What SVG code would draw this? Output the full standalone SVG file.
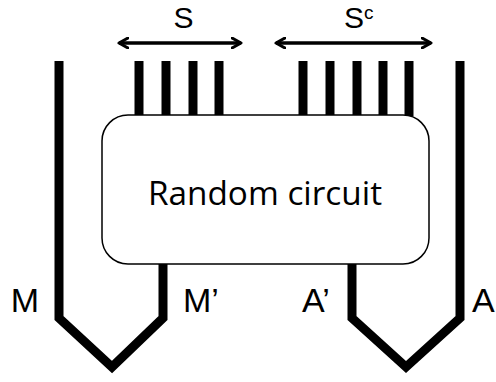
<svg xmlns="http://www.w3.org/2000/svg" width="496" height="382" viewBox="0 0 496 382">
<defs>
<style>
.w{stroke:#000;stroke-width:9;fill:none}
.lw{stroke:#000;stroke-width:9;fill:none;stroke-linejoin:miter}
.arr{stroke:#000;stroke-width:3.5;fill:none;marker-start:url(#ah);marker-end:url(#ah)}
.t{font-family:"Liberation Sans",Arial,sans-serif;fill:#000}
</style>
<marker id="ah" viewBox="0 0 12 12" refX="10" refY="6" markerWidth="12" markerHeight="12" markerUnits="userSpaceOnUse" orient="auto-start-reverse">
<path d="M1,1 L10,6 L1,11" fill="none" stroke="#000" stroke-width="3" stroke-linecap="round" stroke-linejoin="round"/>
</marker>
</defs>
<rect width="496" height="382" fill="#fff"/>
<g id="connectors">
<line class="w" x1="139" y1="61" x2="139" y2="116"/>
<line class="w" x1="166" y1="61" x2="166" y2="116"/>
<line class="w" x1="193" y1="61" x2="193" y2="116"/>
<line class="w" x1="219" y1="61" x2="219" y2="116"/>
<line class="w" x1="303" y1="61" x2="303" y2="116"/>
<line class="w" x1="330" y1="61" x2="330" y2="116"/>
<line class="w" x1="357" y1="61" x2="357" y2="116"/>
<line class="w" x1="383" y1="61" x2="383" y2="116"/>
<line class="w" x1="409" y1="61" x2="409" y2="116"/>
<polyline class="lw" points="59,61 59,318 112,367 163,318 163,264"/>
<polyline class="lw" points="352,264 352,318 406,367 460,318 460,61"/>
<line class="arr" x1="119" y1="43" x2="241" y2="43"/>
<line class="arr" x1="276" y1="43" x2="431" y2="43"/>
</g>
<g id="circuit">
<rect x="102" y="115" width="327" height="149" rx="26" ry="26" fill="#fff" stroke="#000" stroke-width="1.5"/>
<text x="265" y="205" font-size="32" text-anchor="middle" font-family="'Open Sans','Liberation Sans',sans-serif" fill="#000" textLength="234" lengthAdjust="spacingAndGlyphs">Random circuit</text>
</g>
<g id="labels">
<text class="t" x="183.5" y="28" font-size="30" text-anchor="middle">S</text>
<text class="t" x="344" y="28" font-size="30">S<tspan font-size="19" dy="-9">c</tspan></text>
<text class="t" x="25" y="312" font-size="34" text-anchor="middle">M</text>
<text class="t" x="183" y="312" font-size="34">M’</text>
<text class="t" x="302" y="312" font-size="34">A’</text>
<text class="t" x="472" y="312" font-size="34">A</text>
</g>
</svg>
